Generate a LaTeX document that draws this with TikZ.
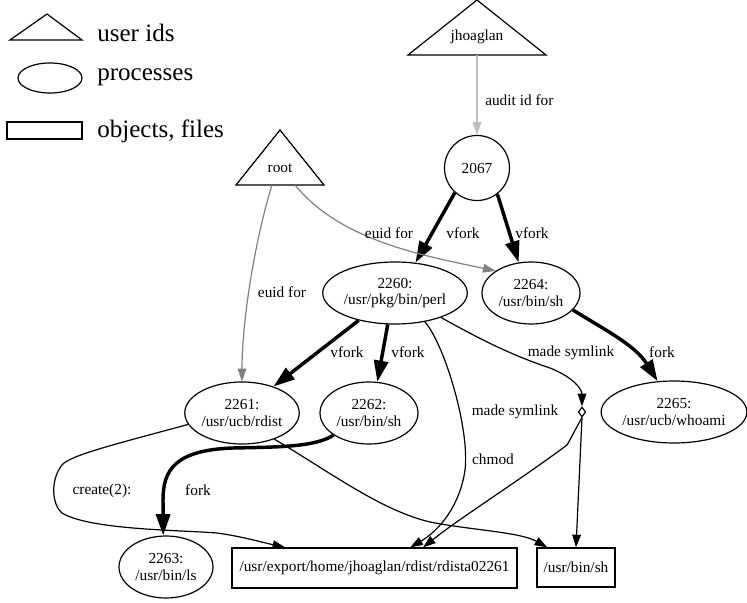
\documentclass[tikz,border=0pt]{standalone}
\usepackage{fontspec}
\setmainfont{Liberation Serif}
\usetikzlibrary{shapes.geometric,arrows.meta}
\newcommand\dgfont{\fontsize{11.5}{12.4}\selectfont}
\newcommand\lgfont{\fontsize{18.8}{22}\selectfont}
\definecolor{lightg}{gray}{0.74}
\definecolor{midg}{gray}{0.5}
\begin{document}
\begin{tikzpicture}[x=0.75pt,y=-0.75pt,
  shp/.style={draw,line width=0.9pt,inner sep=0pt,align=center,font=\dgfont},
  proc/.style={shp,ellipse},
  obj/.style={shp,rectangle},
  lbl/.style={font=\dgfont,inner sep=0pt},
  leg/.style={font=\lgfont,inner sep=0pt,anchor=west},
  thinedge/.style={line width=0.9pt,-{Triangle[length=9.5pt,width=6.5pt]}},
  heavy/.style={line width=2.6pt,-{Triangle[length=16pt,width=10.5pt]}},
  lightedge/.style={thinedge,draw=lightg},
  grayedge/.style={thinedge,draw=midg}]
\useasboundingbox (0,0) rectangle (747,603);
% legend
\draw[line width=0.9pt] (10,40) -- (82,40) -- (47,14) -- cycle;
\node[leg] (lguser) at (97,33) {user ids};
\node[proc,minimum width=48pt,minimum height=22.5pt] (lgproc) at (50,78) {};
\node[leg] (lgproctxt) at (97,77) {processes};
\node[obj,minimum width=56.25pt,minimum height=12.75pt] (lgobj) at (44.5,130.5) {};
\node[leg] (lgobjtxt) at (97,131) {objects, files};
% user ids
\draw[line width=0.9pt] (408,55) -- (546,55) -- (477,0) -- cycle;
\node[lbl] (juser) at (477,37) {jhoaglan};
\coordinate (jb) at (477,55);
\draw[line width=0.9pt] (236,185) -- (324,185) -- (280,130) -- cycle;
\node[lbl] (ruser) at (280,168) {root};
\coordinate (rb1) at (272,185);
\coordinate (rb2) at (295,185);
% processes
\node[shp,circle,minimum size=48.75pt] (n2067) at (477,168) {2067};
\node[proc,minimum width=102pt,minimum height=46.5pt] (n2260) at (395,293) {2260:\\/usr/pkg/bin/perl};
\node[proc,minimum width=73.5pt,minimum height=46.5pt] (n2264) at (531,293) {2264:\\/usr/bin/sh};
\node[proc,minimum width=102pt,minimum height=46.5pt] (n2265) at (674,412) {2265:\\/usr/ucb/whoami};
\node[proc,minimum width=85.5pt,minimum height=46.5pt] (n2261) at (242,413) {2261:\\/usr/ucb/rdist};
\node[proc,minimum width=73.5pt,minimum height=46.5pt] (n2262) at (369,413) {2262:\\/usr/bin/sh};
\node[proc,minimum width=70.5pt,minimum height=46.5pt] (n2263) at (166,567) {2263:\\/usr/bin/ls};
% objects
\node[obj,minimum width=213.75pt,minimum height=30pt] (rd) at (374.5,568) {/usr/export/home/jhoaglan/rdist/rdista02261};
\node[obj,minimum width=58.5pt,minimum height=29.25pt] (sh) at (576,567.5) {/usr/bin/sh};
\node[shp,diamond,minimum width=5.5pt,minimum height=7.5pt] (dm) at (582,412) {};
% edges
\draw[lightedge] (jb) -- (n2067.90);
\node[lbl,anchor=west] (l1) at (485,100) {audit id for};
\draw[heavy] (n2067.-132.5) -- (n2260.56);
\node[lbl] (l2) at (463,233) {vfork};
\draw[heavy] (n2067.-52.4) -- (n2264.112.7);
\node[lbl] (l3) at (532,233) {vfork};
\draw[grayedge] (rb2) .. controls (340,240) and (420,255) .. (n2264.148.6);
\node[lbl] (l4) at (389,233) {euid for};
\draw[grayedge] (rb1) .. controls (255,240) and (242,320) .. (n2261.90);
\node[lbl] (l5) at (282,292) {euid for};
\draw[heavy] (n2260.-143.9) -- (n2261.40.3);
\node[lbl] (l6) at (347,352) {vfork};
\draw[heavy] (n2260.-103.1) -- (n2262.75.5);
\node[lbl] (l7) at (408,352) {vfork};
\draw[thinedge] (n2260.-44) .. controls (445,345) and (470,430) .. (465,470)
  .. controls (460,505) and (440,530) .. (rd.30.8);
\node[lbl] (l8) at (493,459) {chmod};
\draw[thinedge] (n2260.-28.6) .. controls (490,345) and (520,358) .. (550,368)
  .. controls (575,378) and (582,390) .. (dm.north);
\node[lbl] (l9) at (571,353) {made symlink};
\draw[thinedge] (dm.south) .. controls (575,430) and (570,440) .. (567,445)
  .. controls (520,480) and (460,518) .. (rd.23.7);
\node[lbl] (l10) at (515,412) {made symlink};
\draw[thinedge] (dm.south) -- (sh.north);
\draw[thinedge] (n2261.-168) .. controls (120,443) and (70,455) .. (62,465)
  .. controls (50,480) and (52,505) .. (62,513)
  .. controls (90,530) and (180,530) .. (217,533)
  .. controls (240,536) and (265,543) .. (rd.167.7);
\node[lbl] (l11) at (102,491) {create(2):};
\draw[heavy] (n2262.-148.6) .. controls (315,447) and (280,447) .. (233,448)
  .. controls (175,450) and (163,470) .. (163,500) -- (n2263.95);
\node[lbl] (l12) at (198,490) {fork};
\draw[thinedge] (n2261.-39.3) .. controls (330,472) and (380,510) .. (430,522)
  .. controls (470,530) and (520,532) .. (sh.145);
\draw[heavy] (n2264.-22.5) .. controls (605,330) and (635,345) .. (n2265.118.7);
\node[lbl] (l13) at (662,352) {fork};
\end{tikzpicture}
\end{document}
